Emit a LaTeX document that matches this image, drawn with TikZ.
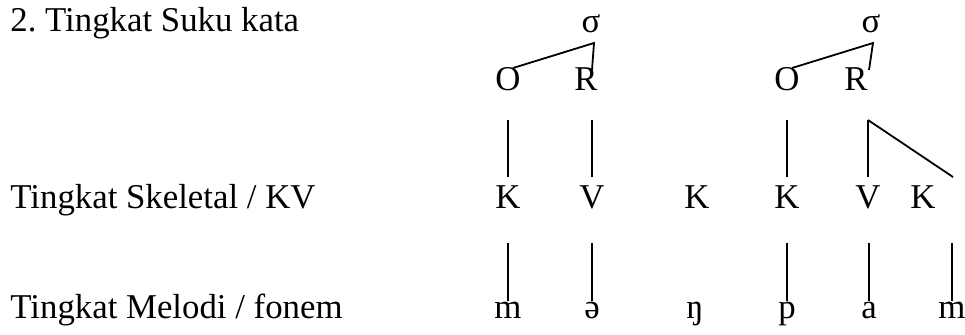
\documentclass[tikz,border=0pt]{standalone}
\usepackage{fontspec}
\setmainfont{Liberation Serif}
\usetikzlibrary{calc}
\tikzset{
  seg/.style={anchor=base, inner sep=0pt, font=\fontsize{17.4}{21}\selectfont},
  lbl/.style={seg, anchor=base west},
  assoc/.style={draw=black, line width=0.9pt},
}

\begin{document}
\begin{tikzpicture}[x=0.5pt, y=-0.5pt]
  \useasboundingbox (0,0) rectangle (965,334);
  % tier labels
  \node[lbl] (Lsyl) at (10,31) {2.\ Tingkat Suku kata};
  \node[lbl] (Lskel) at (10,208) {Tingkat Skeletal / KV};
  \node[lbl] (Lmel) at (10,318) {Tingkat Melodi / fonem};
  % syllables
  \node[seg] (S1) at (591,32) {σ};
  \node[seg] (S2) at (871,32) {σ};
  \node[seg] (O1) at (508,90) {O};
  \node[seg] (R1) at (586,90) {R};
  \node[seg] (O2) at (787,90) {O};
  \node[seg] (R2) at (856,90) {R};
  % skeletal tier
  \foreach \t/\x [count=\i] in {K/508,V/592,K/697,K/787,V/868,K/923}
    \node[seg] (C\i) at (\x,208) {\t};
  % melodic tier
  \foreach \t/\x [count=\i] in {m/508,ə/592,ŋ/695,p/787,a/869,m/952}
    \node[seg] (M\i) at (\x,318) {\t};
  % sigma -> onset / rhyme
  \draw[assoc] ($(O1.base)+(5,-22)$) -- ($(S1.base)+(3,11)$) -- ($(R1.base -| C2.base)+(0,-20)$);
  \draw[assoc] ($(O2.base)+(5,-22)$) -- ($(S2.base)+(2,11)$) -- ($(R2.base -| C5.base)+(1,-20)$);
  % onset / rhyme -> skeleton
  \foreach \u/\c in {O1/C1,R1/C2,O2/C4,R2/C5}
    \draw[assoc] ($(\u.base -| \c.base)+(0,30)$) -- ($(\c.base)+(0,-31)$);
  \draw[assoc] ($(R2.base -| C5.base)+(0,30)$) -- ($(C6.base)+(30,-31)$);
  % skeleton -> melody
  \foreach \c/\m in {C1/M1,C2/M2,C4/M4,C5/M5,C6/M6}
    \draw[assoc] ($(\c.base -| \m.base)+(0,35)$) -- ($(\m.base)+(0,-17)$);
\end{tikzpicture}
\end{document}
